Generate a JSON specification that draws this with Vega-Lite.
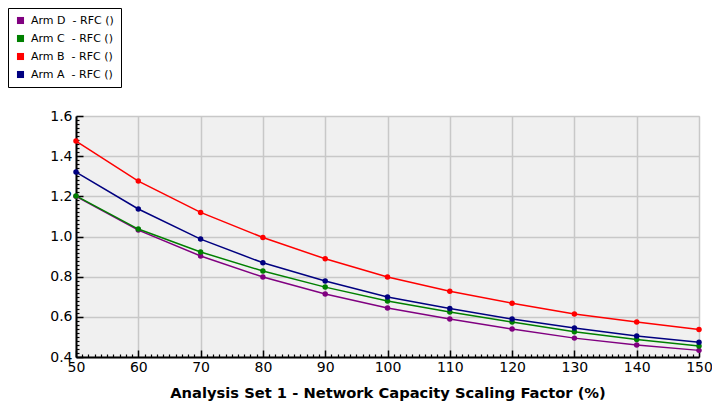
{
  "$schema": "https://vega.github.io/schema/vega-lite/v6.json",
  "width": 623,
  "height": 241,
  "autosize": {"type": "none"},
  "padding": {"left": 76, "top": 116, "right": 13, "bottom": 46},
  "background": "white",
  "config": {
    "view": {"fill": "#f0f0f0", "stroke": "#c8c8c8"},
    "font": "DejaVu Sans"
  },
  "datasets": {
    "main": [
      {"x": 50, "s": "Arm D\u00a0 - RFC ()", "v": 1.200},
      {"x": 60, "s": "Arm D\u00a0 - RFC ()", "v": 1.032},
      {"x": 70, "s": "Arm D\u00a0 - RFC ()", "v": 0.903},
      {"x": 80, "s": "Arm D\u00a0 - RFC ()", "v": 0.798},
      {"x": 90, "s": "Arm D\u00a0 - RFC ()", "v": 0.714},
      {"x": 100, "s": "Arm D\u00a0 - RFC ()", "v": 0.644},
      {"x": 110, "s": "Arm D\u00a0 - RFC ()", "v": 0.589},
      {"x": 120, "s": "Arm D\u00a0 - RFC ()", "v": 0.539},
      {"x": 130, "s": "Arm D\u00a0 - RFC ()", "v": 0.494},
      {"x": 140, "s": "Arm D\u00a0 - RFC ()", "v": 0.460},
      {"x": 150, "s": "Arm D\u00a0 - RFC ()", "v": 0.433},
      {"x": 50, "s": "Arm C\u00a0 - RFC ()", "v": 1.202},
      {"x": 60, "s": "Arm C\u00a0 - RFC ()", "v": 1.037},
      {"x": 70, "s": "Arm C\u00a0 - RFC ()", "v": 0.923},
      {"x": 80, "s": "Arm C\u00a0 - RFC ()", "v": 0.828},
      {"x": 90, "s": "Arm C\u00a0 - RFC ()", "v": 0.748},
      {"x": 100, "s": "Arm C\u00a0 - RFC ()", "v": 0.679},
      {"x": 110, "s": "Arm C\u00a0 - RFC ()", "v": 0.624},
      {"x": 120, "s": "Arm C\u00a0 - RFC ()", "v": 0.574},
      {"x": 130, "s": "Arm C\u00a0 - RFC ()", "v": 0.526},
      {"x": 140, "s": "Arm C\u00a0 - RFC ()", "v": 0.487},
      {"x": 150, "s": "Arm C\u00a0 - RFC ()", "v": 0.455},
      {"x": 50, "s": "Arm B\u00a0 - RFC ()", "v": 1.475},
      {"x": 60, "s": "Arm B\u00a0 - RFC ()", "v": 1.276},
      {"x": 70, "s": "Arm B\u00a0 - RFC ()", "v": 1.120},
      {"x": 80, "s": "Arm B\u00a0 - RFC ()", "v": 0.995},
      {"x": 90, "s": "Arm B\u00a0 - RFC ()", "v": 0.889},
      {"x": 100, "s": "Arm B\u00a0 - RFC ()", "v": 0.798},
      {"x": 110, "s": "Arm B\u00a0 - RFC ()", "v": 0.727},
      {"x": 120, "s": "Arm B\u00a0 - RFC ()", "v": 0.668},
      {"x": 130, "s": "Arm B\u00a0 - RFC ()", "v": 0.614},
      {"x": 140, "s": "Arm B\u00a0 - RFC ()", "v": 0.574},
      {"x": 150, "s": "Arm B\u00a0 - RFC ()", "v": 0.537},
      {"x": 50, "s": "Arm A\u00a0 - RFC ()", "v": 1.321},
      {"x": 60, "s": "Arm A\u00a0 - RFC ()", "v": 1.137},
      {"x": 70, "s": "Arm A\u00a0 - RFC ()", "v": 0.987},
      {"x": 80, "s": "Arm A\u00a0 - RFC ()", "v": 0.869},
      {"x": 90, "s": "Arm A\u00a0 - RFC ()", "v": 0.778},
      {"x": 100, "s": "Arm A\u00a0 - RFC ()", "v": 0.699},
      {"x": 110, "s": "Arm A\u00a0 - RFC ()", "v": 0.642},
      {"x": 120, "s": "Arm A\u00a0 - RFC ()", "v": 0.589},
      {"x": 130, "s": "Arm A\u00a0 - RFC ()", "v": 0.544},
      {"x": 140, "s": "Arm A\u00a0 - RFC ()", "v": 0.505},
      {"x": 150, "s": "Arm A\u00a0 - RFC ()", "v": 0.474}
    ]
  },
  "layer": [
    {
      "data": {"name": "main"},
      "mark": {"type": "line", "strokeWidth": 1.5, "point": {"filled": true, "size": 30}, "clip": false},
      "encoding": {
        "x": {
          "field": "x", "type": "quantitative",
          "scale": {"domain": [50, 150], "nice": false, "zero": false},
          "axis": {
            "orient": "bottom",
            "values": [50, 60, 70, 80, 90, 100, 110, 120, 130, 140, 150],
            "title": "Analysis Set 1 - Network Capacity Scaling Factor (%)",
            "titleFontSize": 14.7, "titleFontWeight": "bold", "titleColor": "black", "titlePadding": 11,
            "labelFontSize": 14, "labelColor": "black", "labelPadding": 10,
            "labelFlush": false,
            "tickSize": -7, "tickColor": "black", "tickWidth": 1.5,
            "domainColor": "black", "domainWidth": 2,
            "grid": true, "gridColor": "#c8c8c8", "gridWidth": 1.5
          }
        },
        "y": {
          "field": "v", "type": "quantitative",
          "scale": {"domain": [0.4, 1.6], "nice": false, "zero": false},
          "axis": {
            "orient": "left",
            "values": [0.4, 0.6, 0.8, 1.0, 1.2, 1.4, 1.6],
            "format": ".1f",
            "title": null,
            "labelFontSize": 14, "labelColor": "black", "labelPadding": 11,
            "labelFlush": false,
            "tickSize": -7, "tickColor": "black", "tickWidth": 1.5,
            "domainColor": "black", "domainWidth": 2,
            "grid": true, "gridColor": "#c8c8c8", "gridWidth": 1.5
          }
        },
        "color": {
          "field": "s", "type": "nominal",
          "scale": {
            "domain": ["Arm D\u00a0 - RFC ()", "Arm C\u00a0 - RFC ()", "Arm B\u00a0 - RFC ()", "Arm A\u00a0 - RFC ()"],
            "range": ["#800080", "#008000", "#ff0000", "#000080"]
          },
          "legend": {
            "orient": "none", "legendX": -68, "legendY": -108,
            "title": null,
            "symbolType": "square", "symbolSize": 50, "symbolStrokeWidth": 0,
            "labelFontSize": 11, "labelColor": "black", "labelOffset": 5,
            "strokeColor": "black", "padding": 7, "rowPadding": 6,
            "fillColor": "white"
          }
        }
      }
    },
    {
      "data": {"values": [{"x": 50, "v": 0.4}]},
      "mark": {"type": "point", "opacity": 0},
      "encoding": {
        "x": {
          "field": "x", "type": "quantitative",
          "axis": {
            "orient": "bottom",
            "values": [51,52,53,54,55,56,57,58,59,61,62,63,64,65,66,67,68,69,71,72,73,74,75,76,77,78,79,81,82,83,84,85,86,87,88,89,91,92,93,94,95,96,97,98,99,101,102,103,104,105,106,107,108,109,111,112,113,114,115,116,117,118,119,121,122,123,124,125,126,127,128,129,131,132,133,134,135,136,137,138,139,141,142,143,144,145,146,147,148,149],
            "labels": false, "title": null, "domain": false, "grid": false,
            "tickSize": -3, "tickColor": "black", "tickWidth": 1.2
          }
        },
        "y": {
          "field": "v", "type": "quantitative",
          "axis": {
            "orient": "left",
            "values": [0.42,0.44,0.46,0.48,0.5,0.52,0.54,0.56,0.58,0.62,0.64,0.66,0.68,0.7,0.72,0.74,0.76,0.78,0.82,0.84,0.86,0.88,0.9,0.92,0.94,0.96,0.98,1.02,1.04,1.06,1.08,1.1,1.12,1.14,1.16,1.18,1.22,1.24,1.26,1.28,1.3,1.32,1.34,1.36,1.38,1.42,1.44,1.46,1.48,1.5,1.52,1.54,1.56,1.58],
            "labels": false, "title": null, "domain": false, "grid": false,
            "tickSize": -3, "tickColor": "black", "tickWidth": 1.2
          }
        }
      }
    }
  ],
  "resolve": {"axis": {"x": "independent", "y": "independent"}}
}
